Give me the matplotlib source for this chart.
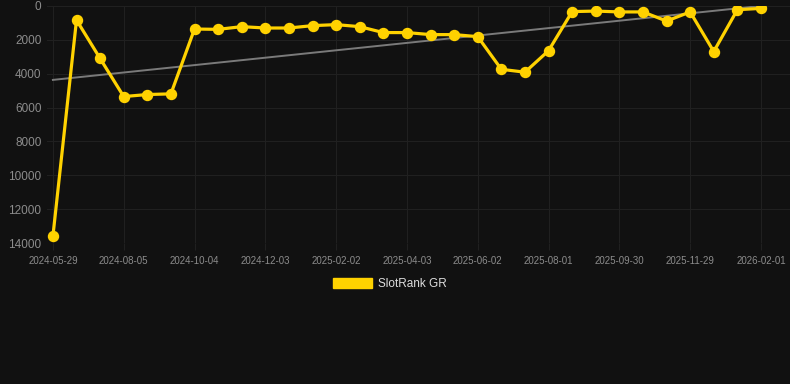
import numpy as np
import matplotlib
matplotlib.use("Agg")
import matplotlib.pyplot as plt
from matplotlib.patches import Patch

plt.rcParams['font.family'] = ['Liberation Sans', 'DejaVu Sans']

rank_values = [13600, 830, 3100, 5350, 5230, 5190, 1360, 1380, 1220, 1300, 1300,
               1160, 1100, 1220, 1570, 1570, 1690, 1690, 1810, 3740, 3910, 2640,
               330, 300, 350, 350, 890, 350, 2690, 220, 140]
tick_labels = ["2024-05-29", "2024-08-05", "2024-10-04", "2024-12-03", "2025-02-02",
               "2025-04-03", "2025-06-02", "2025-08-01", "2025-09-30", "2025-11-29",
               "2026-02-01"]
y_ticks = [0, 2000, 4000, 6000, 8000, 10000, 12000, 14000]
series_name = "SlotRank GR"

bg = "#111111"
yellow = "#FFD200"
grid_c = "#202020"
tick_c = "#8c8c8c"

fig = plt.figure(figsize=(7.9, 3.84), dpi=100, facecolor=bg)
ax = fig.add_axes([47/790, 1-243/384, 1-47/790, (243-6)/384])
ax.set_facecolor(bg)

x = np.arange(len(rank_values))
coef = np.polyfit(x, rank_values, 1)
ax.plot(x, np.polyval(coef, x), color="#7a7a7a", lw=1.4, zorder=2)
ax.plot(x, rank_values, color=yellow, lw=2.3, marker='o', ms=7.2,
        markerfacecolor=yellow, markeredgecolor=yellow, zorder=3)

ax.set_ylim(14000, 0)
ax.set_yticks(y_ticks)
ax.set_yticklabels([str(v) for v in y_ticks])
ax.set_xlim(-0.25, 31.23)
ax.set_xticks(x[::3])
ax.set_xticklabels(tick_labels)

ax.grid(True, color=grid_c, lw=0.8)
for s in ax.spines.values():
    s.set_visible(False)
ax.tick_params(axis='x', colors=grid_c, labelcolor=tick_c, labelsize=7, length=5, width=0.8, pad=4)
ax.tick_params(axis='y', colors=grid_c, labelcolor=tick_c, labelsize=8.5, length=0, pad=4)

leg = fig.legend(handles=[Patch(facecolor=yellow, edgecolor=yellow, label=series_name)],
                 loc='center', bbox_to_anchor=(390/790, 1-284/384), frameon=False,
                 handlelength=3.3, handleheight=1.0, handletextpad=0.5,
                 prop={'size': 8.5})
for t in leg.get_texts():
    t.set_color("#dddddd")

fig.savefig("out.png", dpi=100, facecolor=bg)
